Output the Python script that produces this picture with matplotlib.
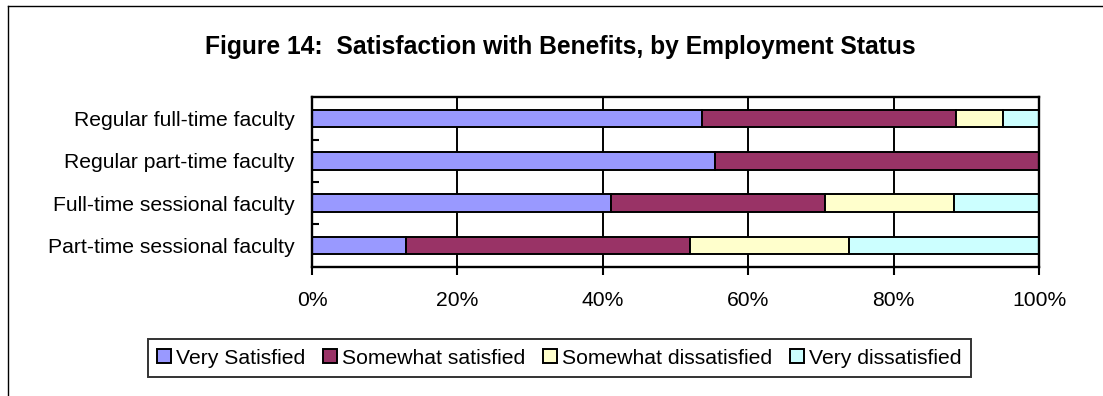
import numpy as np
from matplotlib import pyplot as plt
from matplotlib.patches import Patch
from matplotlib.lines import Line2D

plt.rcParams['font.family'] = ['Liberation Sans', 'DejaVu Sans']

groups = ["Regular full-time faculty", "Regular part-time faculty",
          "Full-time sessional faculty", "Part-time sessional faculty"]
series = ["Very Satisfied", "Somewhat satisfied", "Somewhat dissatisfied", "Very dissatisfied"]
very_satisfied = [53.6, 55.5, 41.1, 12.9]
somewhat_satisfied = [35.0, 44.5, 29.5, 39.1]
somewhat_dissatisfied = [6.4, 0.0, 17.7, 21.9]
very_dissatisfied = [5.0, 0.0, 11.7, 26.1]
colors = ["#9999FF", "#993366", "#FFFFCC", "#CCFFFF"]
xticks = [0, 20, 40, 60, 80, 100]

W, H = 1103, 396
fig = plt.figure(figsize=(W / 100, H / 100), dpi=100)
ax = fig.add_axes([312 / W, 1 - 266.7 / H, (1039 - 312) / W, (266.7 - 97.3) / H])

y = np.arange(len(groups))
left = np.zeros(len(groups))
for name, vals, c in zip(series, [very_satisfied, somewhat_satisfied,
                                  somewhat_dissatisfied, very_dissatisfied], colors):
    vals = np.array(vals)
    ax.barh(y, vals, left=left, height=0.41, color=c, edgecolor='black',
            linewidth=1.4, zorder=3, label=name)
    left += vals

fs = 15.2
ax.set_xlim(0, 100)
ax.set_ylim(len(groups) - 0.5, -0.5)
ax.set_xticks(xticks)
ax.set_xticklabels([f"{v}%" for v in xticks], fontsize=fs)
ax.set_yticks(y)
ax.set_yticklabels(groups, fontsize=fs)
ax.set_yticks(y[:-1] + 0.5, minor=True)
ax.tick_params(axis='y', which='major', length=0, pad=12.5)
ax.tick_params(axis='y', which='minor', direction='in', length=5, width=1.5)
ax.tick_params(axis='x', which='major', direction='out', length=5.5, width=1.5, pad=12)
ax.grid(axis='x', color='black', linewidth=1.4, zorder=0)
for s in ax.spines.values():
    s.set_linewidth(1.7)
    s.set_zorder(4)

fig.text(560 / W, 1 - 47 / H, "Figure 14:  Satisfaction with Benefits, by Employment Status",
         ha='center', va='center', fontsize=17.7, fontweight='bold')

handles = [Patch(facecolor=c, edgecolor='black', linewidth=1.4) for c in colors]
leg = fig.legend(handles, series, loc='center', bbox_to_anchor=(559.5 / W, 1 - 358 / H),
                 ncol=4, fontsize=fs, frameon=True, fancybox=False,
                 handlelength=0.65, handleheight=0.65, handletextpad=0.25,
                 columnspacing=0.85, borderpad=0.45)
leg.get_frame().set_edgecolor('black')
leg.get_frame().set_linewidth(1.4)

# outer chart border (top and left edges)
fig.add_artist(Line2D([8 / W, 1], [1 - 6 / H, 1 - 6 / H], color='black', linewidth=1.0))
fig.add_artist(Line2D([8 / W, 8 / W], [0, 1 - 6 / H], color='black', linewidth=1.0))

fig.savefig("out.png", dpi=100)
